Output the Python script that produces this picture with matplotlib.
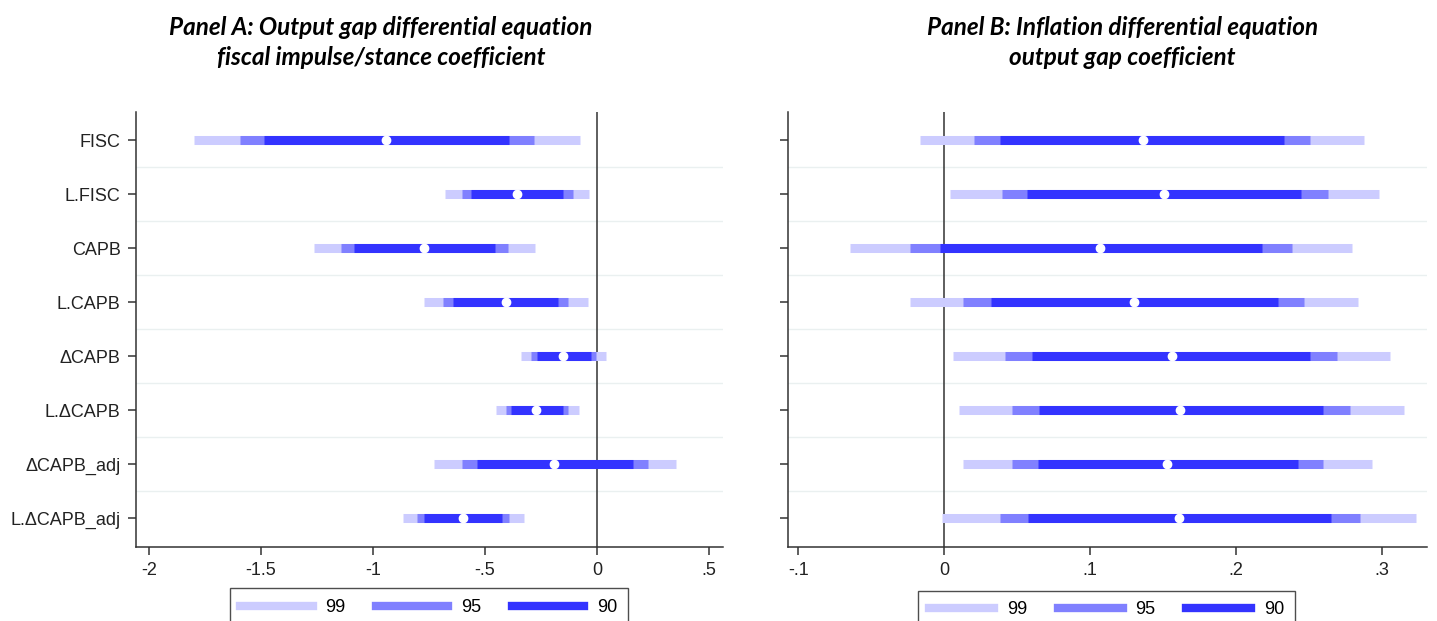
import numpy as np
import matplotlib
matplotlib.use("Agg")
import matplotlib.pyplot as plt
from matplotlib.lines import Line2D

# coefficient labels (top to bottom)
names = ["FISC", "L.FISC", "CAPB", "L.CAPB", "\u0394CAPB", "L.\u0394CAPB",
         "\u0394CAPB_adj", "L.\u0394CAPB_adj"]

# Panel A: output gap equation, fiscal coefficient
a_coef = [-0.942, -0.359, -0.771, -0.408, -0.153, -0.272, -0.190, -0.600]
a_lo90 = [-1.485, -0.563, -1.085, -0.641, -0.269, -0.385, -0.534, -0.771]
a_hi90 = [-0.391, -0.150, -0.454, -0.173, -0.028, -0.150, 0.159, -0.424]
a_lo95 = [-1.595, -0.604, -1.141, -0.689, -0.293, -0.408, -0.601, -0.804]
a_hi95 = [-0.281, -0.109, -0.397, -0.128, -0.006, -0.128, 0.229, -0.391]
a_lo99 = [-1.800, -0.677, -1.262, -0.774, -0.339, -0.452, -0.729, -0.866]
a_hi99 = [-0.076, -0.034, -0.277, -0.042, 0.039, -0.082, 0.354, -0.327]

# Panel B: inflation equation, output gap coefficient
b_coef = [0.136, 0.151, 0.107, 0.130, 0.156, 0.162, 0.153, 0.161]
b_lo90 = [0.0386, 0.0571, -0.003, 0.0322, 0.0605, 0.065, 0.0642, 0.0577]
b_hi90 = [0.2329, 0.2447, 0.2176, 0.2288, 0.2511, 0.2598, 0.2425, 0.2655]
b_lo95 = [0.0203, 0.0395, -0.0237, 0.013, 0.042, 0.0468, 0.0468, 0.038]
b_hi95 = [0.2511, 0.2632, 0.2384, 0.2468, 0.2694, 0.2783, 0.2598, 0.2854]
b_lo99 = [-0.0164, 0.0043, -0.0644, -0.0237, 0.006, 0.010, 0.013, -0.0014]
b_hi99 = [0.2879, 0.2982, 0.2799, 0.2840, 0.3055, 0.3151, 0.2936, 0.3237]

levels = ["99", "95", "90"]
colors = {"99": "#ccccff", "95": "#8080ff", "90": "#3333ff"}

plt.rcParams['font.family'] = ['Liberation Sans', 'DejaVu Sans']

fig = plt.figure(figsize=(14.37, 6.21), dpi=100)
ax1 = fig.add_axes([0.0946, 0.119, 0.4085, 0.7005])
ax2 = fig.add_axes([0.5484, 0.119, 0.4446, 0.7005])

y = np.arange(1, len(names) + 1)
bar_lw = 6.5


def draw_panel(ax, coef, bounds, xlim, xticks, xticklabels, show_names):
    for lev in levels:
        lo, hi = bounds[lev]
        ax.hlines(y, lo, hi, colors=colors[lev], linewidth=bar_lw,
                  capstyle='butt', zorder=3)
    ax.plot(coef, y, 'o', color='white', markersize=6, zorder=4)
    ax.axvline(0, color='#333333', linewidth=1.1, zorder=2)
    for g in y[:-1] + 0.5:
        ax.axhline(g, color='#eaf0f0', linewidth=1.0, zorder=1)
    ax.set_xlim(*xlim)
    ax.set_ylim(8.53, 0.48)
    ax.set_xticks(xticks)
    ax.set_xticklabels(xticklabels)
    ax.set_yticks(y)
    if show_names:
        ax.set_yticklabels(names)
    else:
        ax.set_yticklabels([])
    ax.tick_params(axis='both', labelsize=13, length=6, width=1.1,
                   color='#333333', labelcolor='#222222', pad=5)
    for s in ['top', 'right']:
        ax.spines[s].set_visible(False)
    for s in ['left', 'bottom']:
        ax.spines[s].set_color('#333333')
        ax.spines[s].set_linewidth(1.1)


draw_panel(ax1, a_coef,
           {"99": (a_lo99, a_hi99), "95": (a_lo95, a_hi95), "90": (a_lo90, a_hi90)},
           (-2.058, 0.5625), [-2, -1.5, -1, -0.5, 0, 0.5],
           ["-2", "-1.5", "-1", "-.5", "0", ".5"], True)
draw_panel(ax2, b_coef,
           {"99": (b_lo99, b_hi99), "95": (b_lo95, b_hi95), "90": (b_lo90, b_hi90)},
           (-0.107, 0.331), [-0.1, 0, 0.1, 0.2, 0.3],
           ["-.1", "0", ".1", ".2", ".3"], False)

handles = [Line2D([0], [0], color=colors[l], linewidth=6) for l in levels]
for cx, top, hl in [(0.2983, 0.053, 4.0), (0.770, 0.049, 3.6)]:
    leg = fig.legend(handles, levels, ncol=3, loc='upper center',
                     bbox_to_anchor=(cx, top), frameon=True, fancybox=False,
                     fontsize=13, handlelength=hl, handletextpad=0.7,
                     columnspacing=1.7, borderpad=0.6, borderaxespad=0)
    leg.get_frame().set_edgecolor('#222222')
    leg.get_frame().set_linewidth(1.0)

title_kw = dict(fontsize=17.5, fontweight='bold', fontstyle='italic',
                family=['Lato', 'DejaVu Sans'], ha='center', va='center',
                linespacing=1.38)
fig.text(0.265, 0.931, "Panel A: Output gap differential equation\nfiscal impulse/stance coefficient",
         **title_kw)
fig.text(0.781, 0.931, "Panel B: Inflation differential equation\noutput gap coefficient",
         **title_kw)

fig.savefig("out.png", dpi=100)
